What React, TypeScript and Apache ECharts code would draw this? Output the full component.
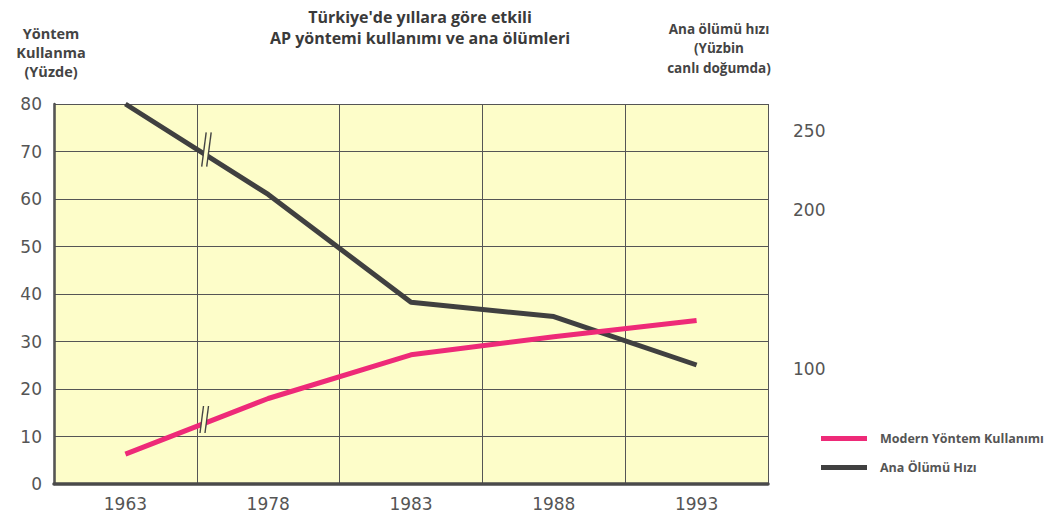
import React, { useEffect, useRef } from "react";
import * as echarts from "echarts";

const years = ["1963", "1978", "1983", "1988", "1993"];
const modernUse = [6.3, 18, 27.2, 31, 34.4];
const maternalMortality = [267, 210, 142, 133, 102.5];
const rightTicks = [100, 200, 250];

const BG = "#fdfdc9";
const PINK = "#ee2a78";
const DARK = "#404040";
const TITLE_FONT = "Open Sans";

function breakMark(x1: number, yb: number, x2: number, yt: number, gap: number) {
  return {
    type: "group",
    children: [
      {
        type: "polygon",
        shape: { points: [[x1, yb], [x2, yt], [x2 + gap, yt], [x1 + gap, yb]] },
        style: { fill: BG },
        z: 100,
      },
      {
        type: "line",
        shape: { x1, y1: yb, x2, y2: yt },
        style: { stroke: "#444", lineWidth: 1.4 },
        z: 101,
      },
      {
        type: "line",
        shape: { x1: x1 + gap, y1: yb, x2: x2 + gap, y2: yt },
        style: { stroke: "#444", lineWidth: 1.4 },
        z: 101,
      },
    ],
  };
}

export default function App() {
  const ref = useRef<HTMLDivElement>(null);
  useEffect(() => {
    if (!ref.current) return;
    const chart = echarts.init(ref.current, undefined, { renderer: "svg" });
    chart.setOption({
      animation: false,
      backgroundColor: "#ffffff",
      title: [
        {
          text: "Türkiye'de yıllara göre etkili\nAP yöntemi kullanımı ve ana ölümleri",
          left: 415,
          top: 1,
          textAlign: "center",
          textStyle: { fontFamily: TITLE_FONT, fontWeight: "bold", fontSize: 16, lineHeight: 21, color: "#3a3a3a" },
        },
        {
          text: "Yöntem\nKullanma\n(Yüzde)",
          left: 46,
          top: 19,
          textAlign: "center",
          textStyle: { fontFamily: TITLE_FONT, fontWeight: "bold", fontSize: 14.5, lineHeight: 19, color: "#444" },
        },
        {
          text: "Ana ölümü hızı\n(Yüzbin\ncanlı doğumda)",
          left: 714,
          top: 14,
          textAlign: "center",
          textStyle: { fontFamily: TITLE_FONT, fontWeight: "bold", fontSize: 13.5, lineHeight: 19.5, color: "#444" },
        },
      ],
      legend: {
        orient: "vertical",
        left: 816,
        top: 427,
        icon: "rect",
        itemWidth: 46,
        itemHeight: 5,
        itemGap: 16,
        textStyle: { fontFamily: TITLE_FONT, fontWeight: "bold", fontSize: 12.5, color: "#555", padding: [0, 0, 0, 8] },
        data: ["Modern Yöntem Kullanımı", "Ana Ölümü Hızı"],
      },
      grid: {
        left: 54,
        right: 289,
        top: 104,
        bottom: 33,
        show: true,
        backgroundColor: BG,
        borderWidth: 0,
      },
      xAxis: {
        type: "category",
        data: years,
        boundaryGap: true,
        axisLine: { show: true, lineStyle: { color: "#4a4a4a", width: 3.5 } },
        axisTick: { show: false },
        axisLabel: { margin: 11, fontFamily: "DejaVu Sans", fontSize: 17, color: "#555" },
        splitLine: { show: true, lineStyle: { color: "#555", width: 1 } },
        z: 3,
      },
      yAxis: [
        {
          type: "value",
          min: 0,
          max: 80,
          interval: 10,
          axisLine: { show: true, lineStyle: { color: "#4a4a4a", width: 2.5 } },
          axisTick: { show: false },
          axisLabel: { margin: 12, fontFamily: "DejaVu Sans", fontSize: 17, color: "#555" },
          splitLine: { show: true, lineStyle: { color: "#555", width: 1 } },
        },
        {
          type: "value",
          position: "right",
          min: 27.5,
          max: 267,
          axisLine: { show: false },
          axisTick: { show: false },
          splitLine: { show: false },
          axisLabel: {
            customValues: rightTicks,
            margin: 25,
            fontFamily: "DejaVu Sans",
            fontSize: 17,
            color: "#555",
          },
        },
      ],
      series: [
        {
          name: "Ana Ölümü Hızı",
          type: "line",
          yAxisIndex: 1,
          data: maternalMortality,
          symbol: "none",
          clip: false,
          lineStyle: { color: DARK, width: 5 },
          itemStyle: { color: DARK },
          z: 5,
        },
        {
          name: "Modern Yöntem Kullanımı",
          type: "line",
          yAxisIndex: 0,
          data: modernUse,
          symbol: "none",
          lineStyle: { color: PINK, width: 5 },
          itemStyle: { color: PINK },
          z: 6,
        },
      ],
      graphic: [
        breakMark(201.7, 166.7, 206.2, 132.3, 5),
        breakMark(200, 433, 203.5, 406, 5),
      ],
    });
    return () => chart.dispose();
  }, []);
  return (
    <div
      ref={ref}
      style={{ position: "fixed", left: 0, top: 0, width: 1057, height: 517 }}
    />
  );
}
